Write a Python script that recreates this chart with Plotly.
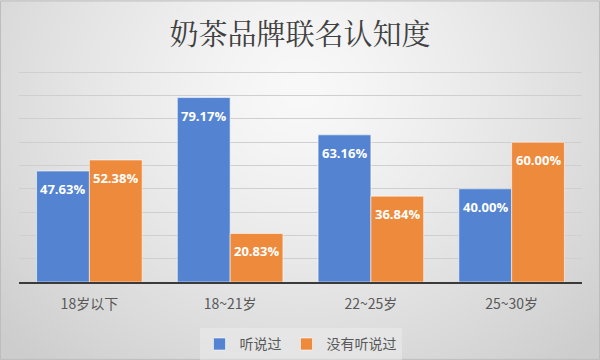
import base64, struct, zlib
import numpy as np
import plotly.graph_objects as go

categories = ["18岁以下", "18~21岁", "22~25岁", "25~30岁"]
heard = [0.4763, 0.7917, 0.6316, 0.4000]
not_heard = [0.5238, 0.2083, 0.3684, 0.6000]
series_names = ["听说过", "没有听说过"]
title_text = "奶茶品牌联名认知度"

BLUE = "#5383D1"
ORANGE = "#EE8A3C"

W, H = 600, 360
YMAX = 0.91
ML, MR, MB = 19, 18, 78
PH = YMAX * (210 / 0.9)
MT = H - MB - PH
PW = W - ML - MR


def gradient_uri(w=300, h=180):
    ys, xs = np.mgrid[0:h, 0:w]
    xs = xs * (W / w)
    ys = ys * (H / h)
    r = np.sqrt(((xs - 300) / 330.0) ** 2 + ((ys - 90) / 290.0) ** 2)
    r = np.clip(r, 0, 1.25) / 1.25
    v = 249 - 44 * r ** 1.3
    arr = np.repeat(v[:, :, None], 3, axis=2).astype(np.uint8)
    raw = b"".join(b"\x00" + arr[i].tobytes() for i in range(h))

    def chunk(t, d):
        c = struct.pack(">I", len(d)) + t + d
        return c + struct.pack(">I", zlib.crc32(t + d) & 0xFFFFFFFF)

    png = b"\x89PNG\r\n\x1a\n" + chunk(b"IHDR", struct.pack(">IIBBBBB", w, h, 8, 2, 0, 0, 0))
    png += chunk(b"IDAT", zlib.compress(raw, 9)) + chunk(b"IEND", b"")
    return "data:image/png;base64," + base64.b64encode(png).decode()


fig = go.Figure()
for name, vals, col in [(series_names[0], heard, BLUE), (series_names[1], not_heard, ORANGE)]:
    fig.add_trace(go.Bar(
        x=categories, y=vals, name=name,
        marker=dict(color=col, line=dict(color="rgba(255,255,255,0.55)", width=1)),
        hoverinfo="skip",
    ))

annotations = []
for shift, vals in [(-26.4, heard), (26.4, not_heard)]:
    for c, v in zip(categories, vals):
        annotations.append(dict(
            x=c, y=v, xref="x", yref="y", text=f"{v*100:.2f}%",
            showarrow=False, xshift=shift, yshift=-18, yanchor="middle",
            font=dict(family="Open Sans, Noto Sans, sans-serif", size=13, color="white", weight="bold"),
        ))

fig.update_layout(
    width=W, height=H,
    margin=dict(l=ML, r=MR, t=MT, b=MB, pad=0, autoexpand=False),
    paper_bgcolor="#e2e2e2",
    plot_bgcolor="rgba(0,0,0,0)",
    barmode="group", bargap=0.25, bargroupgap=0,
    title=dict(text=title_text, x=0.5, xanchor="center", y=1 - 35 / H, yanchor="middle",
               yref="container",
               font=dict(family="Noto Serif CJK SC, Noto Sans CJK SC, sans-serif", size=29, color="#404040")),
    xaxis=dict(showline=True, linecolor="#3a3a3a", linewidth=2, ticks="", showgrid=False,
               tickfont=dict(family="Noto Sans CJK SC, sans-serif", size=14, color="#595959"),
               ticklabelstandoff=8, fixedrange=True, automargin=False),
    yaxis=dict(range=[0, YMAX], dtick=0.1, showticklabels=False, showgrid=True,
               gridcolor="#cfcfcf", gridwidth=1, zeroline=False, fixedrange=True, automargin=False),
    legend=dict(orientation="h", x=0.5, xanchor="center", y=(282 - 344.5) / PH, yanchor="middle",
                bgcolor="rgba(240,240,240,0.45)",
                font=dict(family="Noto Sans CJK SC, sans-serif", size=14, color="#595959"),
                itemwidth=30, traceorder="normal"),
    annotations=annotations,
    images=[dict(source=gradient_uri(), xref="paper", yref="paper",
                 x=-ML / PW, y=1 + MT / PH, sizex=W / PW, sizey=H / PH,
                 xanchor="left", yanchor="top", sizing="stretch", layer="below")],
    shapes=[dict(type="rect", xref="paper", yref="paper",
                 x0=-ML / PW + 0.5 / PW, x1=1 + (MR - 0.5) / PW,
                 y0=-(MB - 0.5) / PH, y1=1 + (MT - 0.5) / PH,
                 line=dict(color="#bdbdbd", width=1), layer="above")],
    showlegend=True,
)

fig.write_html("out.html", config={"displayModeBar": False},
               post_script="document.body.style.margin='0';document.body.style.overflow='hidden';")
